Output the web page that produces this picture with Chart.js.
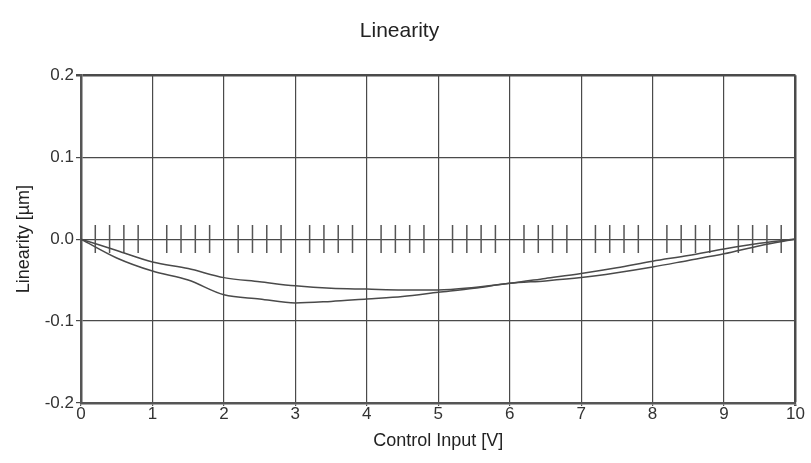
<!DOCTYPE html>
<html>
<head>
<meta charset="utf-8">
<script src="https://cdn.jsdelivr.net/npm/chart.js@4.4.1/dist/chart.umd.min.js"></script>
<style>
  html, body { margin: 0; padding: 0; background: #fff; }
  #wrap { width: 811px; height: 463px; }
</style>
</head>
<body>
<div id="wrap"><canvas id="grafico"></canvas></div>
<script>
// Control input (V) sampled along the sweep
const entrada = [0, 0.5, 1, 1.5, 2, 2.5, 3, 3.5, 4, 4.5, 5, 5.5, 6, 6.5, 7, 7.5, 8, 8.5, 9, 9.5, 10];
// Linearity (µm), upper and lower branches
const ramoSuperior = [0, -0.014, -0.028, -0.036, -0.047, -0.052, -0.057, -0.060, -0.061, -0.062, -0.062, -0.059, -0.054, -0.048, -0.042, -0.035, -0.027, -0.020, -0.012, -0.005, 0];
const ramoInferior = [0, -0.023, -0.039, -0.050, -0.068, -0.073, -0.078, -0.076, -0.073, -0.070, -0.065, -0.060, -0.054, -0.051, -0.047, -0.041, -0.034, -0.026, -0.018, -0.008, 0];
// Short markers along the zero line
const marcasX = [0.2, 0.4, 0.6, 0.8, 1.2, 1.4, 1.6, 1.8, 2.2, 2.4, 2.6, 2.8, 3.2, 3.4, 3.6, 3.8,
                 4.2, 4.4, 4.6, 4.8, 5.2, 5.4, 5.6, 5.8, 6.2, 6.4, 6.6, 6.8, 7.2, 7.4, 7.6, 7.8,
                 8.2, 8.4, 8.6, 8.8, 9.2, 9.4, 9.6, 9.8];
const marcasY = marcasX.map(() => 0);

const xMin = 0, xMax = 10;
const yMin = -0.2, yMax = 0.2;

const fonte = "'Liberation Sans', Arial, sans-serif";

const pontos = (xs, ys) => xs.map((x, i) => ({ x: x, y: ys[i] }));

new Chart(document.getElementById('grafico').getContext('2d'), {
    type: 'scatter',
    data: {
        datasets: [{
            label: 'Upper',
            data: pontos(entrada, ramoSuperior),
            showLine: true,
            borderColor: '#4a4a4a',
            borderWidth: 1.5,
            pointRadius: 0,
            cubicInterpolationMode: 'monotone'
        }, {
            label: 'Lower',
            data: pontos(entrada, ramoInferior),
            showLine: true,
            borderColor: '#4a4a4a',
            borderWidth: 1.5,
            pointRadius: 0,
            cubicInterpolationMode: 'monotone'
        }, {
            label: 'Marks',
            data: pontos(marcasX, marcasY),
            showLine: false,
            pointStyle: 'line',
            rotation: 90,
            pointRadius: 14,
            pointBorderWidth: 1.5,
            pointBorderColor: '#555',
            pointBackgroundColor: '#555'
        }]
    },
    options: {
        responsive: true,
        maintainAspectRatio: false,
        animation: false,
        layout: { padding: { left: 0, right: 12, top: 0, bottom: 0 } },
        plugins: {
            legend: { display: false },
            tooltip: { enabled: false },
            title: {
                display: true,
                text: 'Linearity',
                color: '#222',
                font: { family: fonte, size: 21, weight: 'normal' },
                padding: { top: 19, bottom: 31 }
            }
        },
        scales: {
            x: {
                type: 'linear',
                min: xMin,
                max: xMax,
                afterFit: (s) => { s.height = 60; },
                ticks: {
                    stepSize: 1,
                    padding: -2,
                    color: '#333',
                    font: { family: fonte, size: 17 }
                },
                grid: {
                    color: '#4a4a4a',
                    lineWidth: (c) => (c.tick && c.tick.value === xMax) ? 2.5 : 1.2,
                    tickLength: 3
                },
                border: { color: '#555', width: 2.5 },
                title: {
                    display: true,
                    text: 'Control Input [V]',
                    color: '#222',
                    font: { family: fonte, size: 18 },
                    padding: { top: 0, bottom: 11 }
                }
            },
            y: {
                type: 'linear',
                min: yMin,
                max: yMax,
                afterFit: (s) => { s.width = 81; },
                ticks: {
                    stepSize: 0.1,
                    padding: 2,
                    color: '#333',
                    font: { family: fonte, size: 17 },
                    callback: (v) => v.toFixed(1)
                },
                grid: {
                    color: '#4a4a4a',
                    lineWidth: (c) => (c.tick && c.tick.value >= yMax - 1e-9) ? 2.5 : 1.2,
                    tickLength: 5
                },
                border: { color: '#555', width: 2.5 },
                title: {
                    display: true,
                    text: 'Linearity [µm]',
                    color: '#222',
                    font: { family: fonte, size: 18 },
                    padding: { top: 13, bottom: 0 }
                }
            }
        }
    }
});
</script>
</body>
</html>
